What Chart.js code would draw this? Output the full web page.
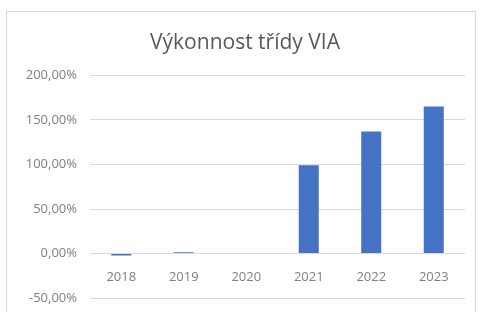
<!DOCTYPE html>
<html>
<head>
<meta charset="utf-8">
<script src="https://cdn.jsdelivr.net/npm/chart.js@4/dist/chart.umd.min.js"></script>
<style>
  html, body { margin: 0; padding: 0; background: #fff; }
  #wrap { position: relative; width: 480px; height: 312px; overflow: hidden; }
  #frame { position: absolute; left: 6px; top: 11px; width: 470px; height: 320px; border: 1px solid #d9d9d9; box-sizing: border-box; }
  #perfChart { position: absolute; left: 0; top: 0; }
</style>
</head>
<body>
<div id="wrap">
  <div id="frame"></div>
  <canvas id="perfChart" width="480" height="319"></canvas>
</div>
<script>
const years = ['2018', '2019', '2020', '2021', '2022', '2023'];
const performance = [-2, 1.5, 0, 99, 137, 165];
const yTicks = { min: -50, max: 200, step: 50 };
const chartTitle = 'Výkonnost třídy VIA';

function pctLabel(v) {
  return v.toFixed(2).replace('.', ',') + '%';
}

const ctx = document.getElementById('perfChart').getContext('2d');

new Chart(ctx, {
  type: 'bar',
  data: {
    labels: years,
    datasets: [{
      data: performance,
      backgroundColor: '#4472c4',
      barPercentage: 0.4,
      categoryPercentage: 0.8
    }]
  },
  options: {
    responsive: false,
    animation: false,
    layout: {
      padding: { left: 25, right: 15, top: 0, bottom: 8 }
    },
    scales: {
      x: {
        position: { y: 0 },
        grid: { display: false, drawTicks: false },
        border: { display: false },
        ticks: {
          padding: 16,
          color: '#808080',
          font: { family: 'Open Sans', size: 13 }
        }
      },
      y: {
        min: yTicks.min,
        max: yTicks.max,
        afterFit: function (scale) { scale.width = 65; },
        grid: { color: '#d9d9d9', drawTicks: false },
        border: { display: false },
        ticks: {
          stepSize: yTicks.step,
          padding: 13,
          color: '#808080',
          font: { family: 'Open Sans', size: 13 },
          callback: function (value) { return pctLabel(value); }
        }
      }
    },
    plugins: {
      legend: { display: false },
      tooltip: { enabled: false },
      title: {
        display: true,
        text: chartTitle,
        color: '#595959',
        font: { family: 'Open Sans', size: 21, weight: 'normal' },
        padding: { top: 30, bottom: 20 }
      }
    }
  }
});
</script>
</body>
</html>
